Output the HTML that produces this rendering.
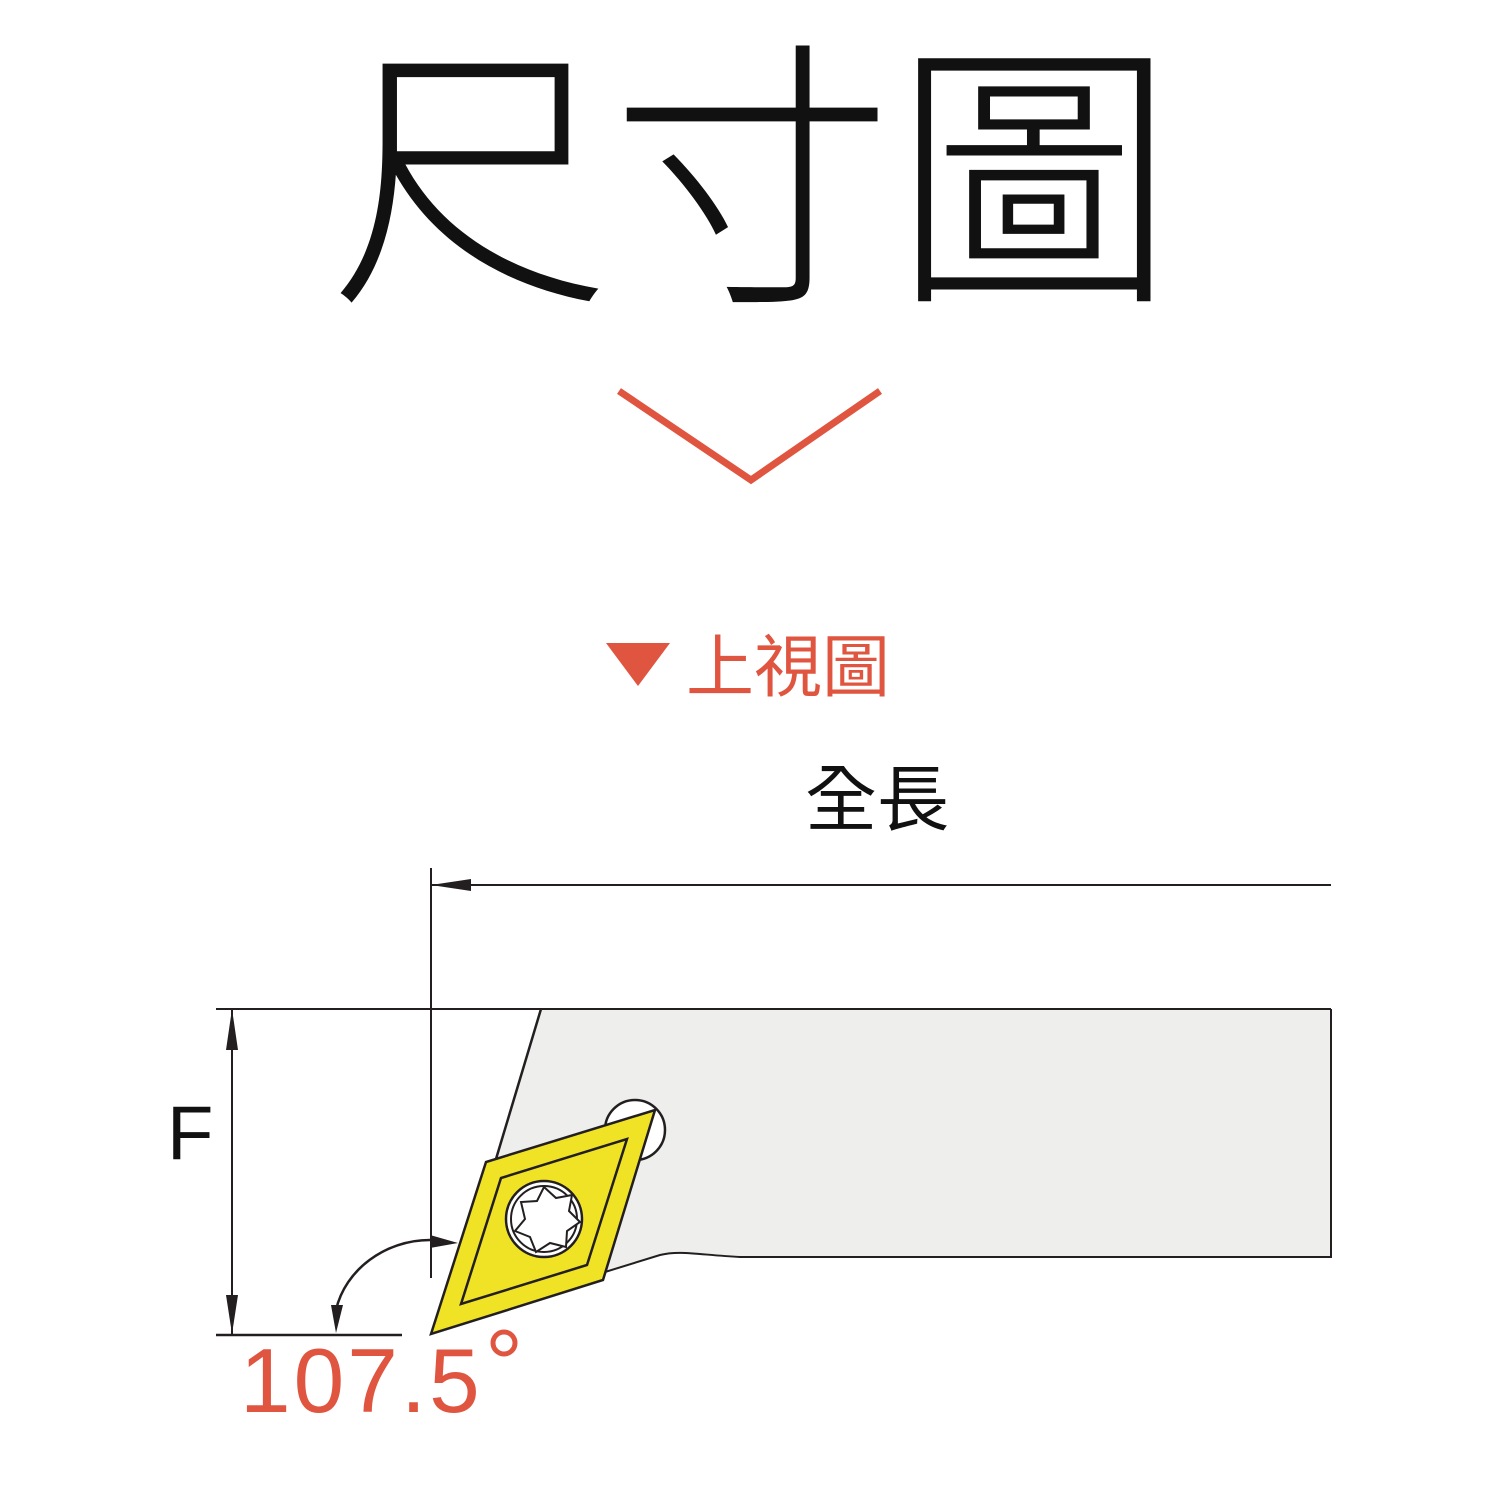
<!DOCTYPE html>
<html><head><meta charset="utf-8"><style>
html,body{margin:0;padding:0;background:#fff;}
body{width:1500px;height:1500px;position:relative;overflow:hidden;}
.t{position:absolute;white-space:nowrap;line-height:1;}
</style></head><body>
<div class="t" style="left:329px;top:18px;font-family:'Noto Sans CJK TC','Noto Sans CJK SC',sans-serif;font-weight:300;font-size:282px;color:#111;">尺寸圖</div>
<div class="t" style="left:686px;top:628px;font-family:'Noto Sans CJK TC',sans-serif;font-size:68px;color:#e05540;">上視圖</div>
<div class="t" style="left:805px;top:758px;font-family:'Noto Sans CJK TC',sans-serif;font-size:72px;color:#111;">全長</div>
<div class="t" style="left:167px;top:1096px;font-family:'Liberation Sans',sans-serif;font-size:76px;color:#111;">F</div>
<div class="t" style="left:240px;top:1336px;font-family:'Liberation Sans',sans-serif;font-size:91px;color:#e05540;letter-spacing:3px;">107.5</div>
<svg width="1500" height="1500" style="position:absolute;left:0;top:0" xmlns="http://www.w3.org/2000/svg">
<polyline points="619,391 751,480 880,391" fill="none" stroke="#e05540" stroke-width="7"/>
<polygon points="606,643 670,643 638,686" fill="#e05540"/>
<circle cx="504" cy="1343" r="11" fill="none" stroke="#e05540" stroke-width="5"/>
<path d="M541,1009 L1331,1009 L1331,1257 L740,1257 C700,1255 680,1250 660,1254 L605,1272 L496,1159 Z" fill="#eeeeec"/>
<path d="M541,1009 L496,1159" stroke="#231f20" stroke-width="2.5" fill="none"/>
<path d="M605,1272 L660,1255 C680,1250 700,1255 740,1257 L1331,1257 L1331,1009" stroke="#231f20" stroke-width="2" fill="none"/>
<line x1="216" y1="1009" x2="1331" y2="1009" stroke="#231f20" stroke-width="2"/>
<circle cx="635" cy="1130" r="30" fill="#fff" stroke="#231f20" stroke-width="2.5"/>
<polygon points="431,1334 486,1162 655,1110 603,1280" fill="#f0e224" stroke="#231f20" stroke-width="2.5"/>
<polygon points="461,1304 501,1178 627,1139 587,1265" fill="none" stroke="#231f20" stroke-width="2.5"/>
<circle cx="544" cy="1219" r="38" fill="#fff" stroke="#231f20" stroke-width="2.5"/>
<circle cx="544" cy="1219" r="33" fill="none" stroke="#231f20" stroke-width="2"/>
<path d="M544,1187 L556,1198 L572,1195 L569,1211 L580,1222 L567,1231 L566,1247 L550,1243 L536,1252 L530,1237 L515,1231 L525,1219 L521,1202 L537,1201 Z" fill="#fff" stroke="#231f20" stroke-width="2"/>
<line x1="431" y1="868" x2="431" y2="1278" stroke="#231f20" stroke-width="2"/>
<line x1="431" y1="885" x2="1331" y2="885" stroke="#231f20" stroke-width="2"/>
<polygon points="431,885 471,879 471,891" fill="#231f20"/>
<line x1="232" y1="1009" x2="232" y2="1334" stroke="#231f20" stroke-width="2"/>
<polygon points="232,1009 226,1050 238,1050" fill="#231f20"/>
<polygon points="232,1334 226,1295 238,1295" fill="#231f20"/>
<line x1="216" y1="1335" x2="402" y2="1335" stroke="#231f20" stroke-width="2.5"/>
<path d="M336,1310 C345,1270 385,1240 430,1240" fill="none" stroke="#231f20" stroke-width="2.5"/>
<polygon points="336,1333 331,1305 343,1305" fill="#231f20"/>
<polygon points="458,1243 430,1235 430,1248" fill="#231f20"/>
</svg>
</body></html>
